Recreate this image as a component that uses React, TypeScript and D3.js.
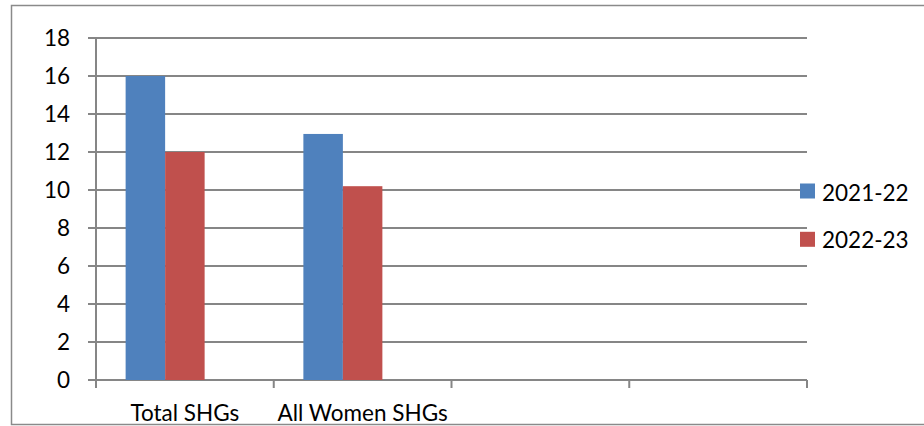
import React from "react";
import * as d3 from "d3";

const categories = ["Total SHGs", "All Women SHGs", "", ""];
const seriesNames = ["2021-22", "2022-23"];
const values2021 = [16, 12.95];
const values2022 = [12, 10.2];
const yTicks = [0, 2, 4, 6, 8, 10, 12, 14, 16, 18];
const colors = ["#4F81BD", "#C0504D"];
// the source chart reserves a slot for a third (empty) series in each group
const seriesSlots = 3;

const W = 924;
const H = 426;
const FONT = "Lato, Carlito, Calibri, sans-serif";

export default function App() {
  const left = 96;
  const right = 807;
  const top = 38;
  const bottom = 380;
  const y = d3.scaleLinear().domain([0, 18]).range([bottom, top]);
  const x = d3
    .scaleBand<number>()
    .domain(d3.range(categories.length))
    .range([left, right])
    .paddingInner(0)
    .paddingOuter(0);
  const step = x.step();
  const barW = step / (seriesSlots + 1.5);
  const series = [values2021, values2022];
  const grid = "#868686";

  return (
    <svg
      width={W}
      height={H}
      style={{ position: "absolute", left: 0, top: 0, background: "#fff" }}
      fontFamily={FONT}
    >
      <rect x={0} y={0} width={W} height={H} fill="#fff" />
      <rect x={11.5} y={5.5} width={W} height={419} fill="none" stroke="#8a8a8a" strokeWidth={1.5} />
      {yTicks.map((t) => (
        <g key={t}>
          <line x1={left - 8} x2={right} y1={y(t)} y2={y(t)} stroke={grid} strokeWidth={2} />
          <text x={70} y={y(t) + 8} textAnchor="end" fontSize={22.5} fill="#000">
            {t}
          </text>
        </g>
      ))}
      <line x1={left} x2={left} y1={top - 1} y2={bottom + 1} stroke={grid} strokeWidth={2} />
      {d3.range(categories.length + 1).map((i) => {
        const xx = left + i * step;
        return <line key={i} x1={xx} x2={xx} y1={bottom} y2={bottom + 8} stroke={grid} strokeWidth={2} />;
      })}
      {series.map((vals, si) =>
        vals.map((v, ci) => {
          const x0 = (x(ci) as number) + (step - seriesSlots * barW) / 2 + si * barW;
          return (
            <rect
              key={`${si}-${ci}`}
              x={x0}
              y={y(v)}
              width={barW}
              height={y(0) - y(v)}
              fill={colors[si]}
            />
          );
        })
      )}
      {categories.map((c, i) =>
        c ? (
          <text
            key={i}
            x={(x(i) as number) + step / 2}
            y={421}
            textAnchor="middle"
            fontSize={22.5}
            fill="#000"
          >
            {c}
          </text>
        ) : null
      )}
      {seriesNames.map((n, i) => (
        <g key={n}>
          <rect x={800} y={183.5 + i * 48.3} width={15} height={15} fill={colors[i]} />
          <text x={822} y={200.5 + i * 47} fontSize={22.5} fill="#000">
            {n}
          </text>
        </g>
      ))}
    </svg>
  );
}
